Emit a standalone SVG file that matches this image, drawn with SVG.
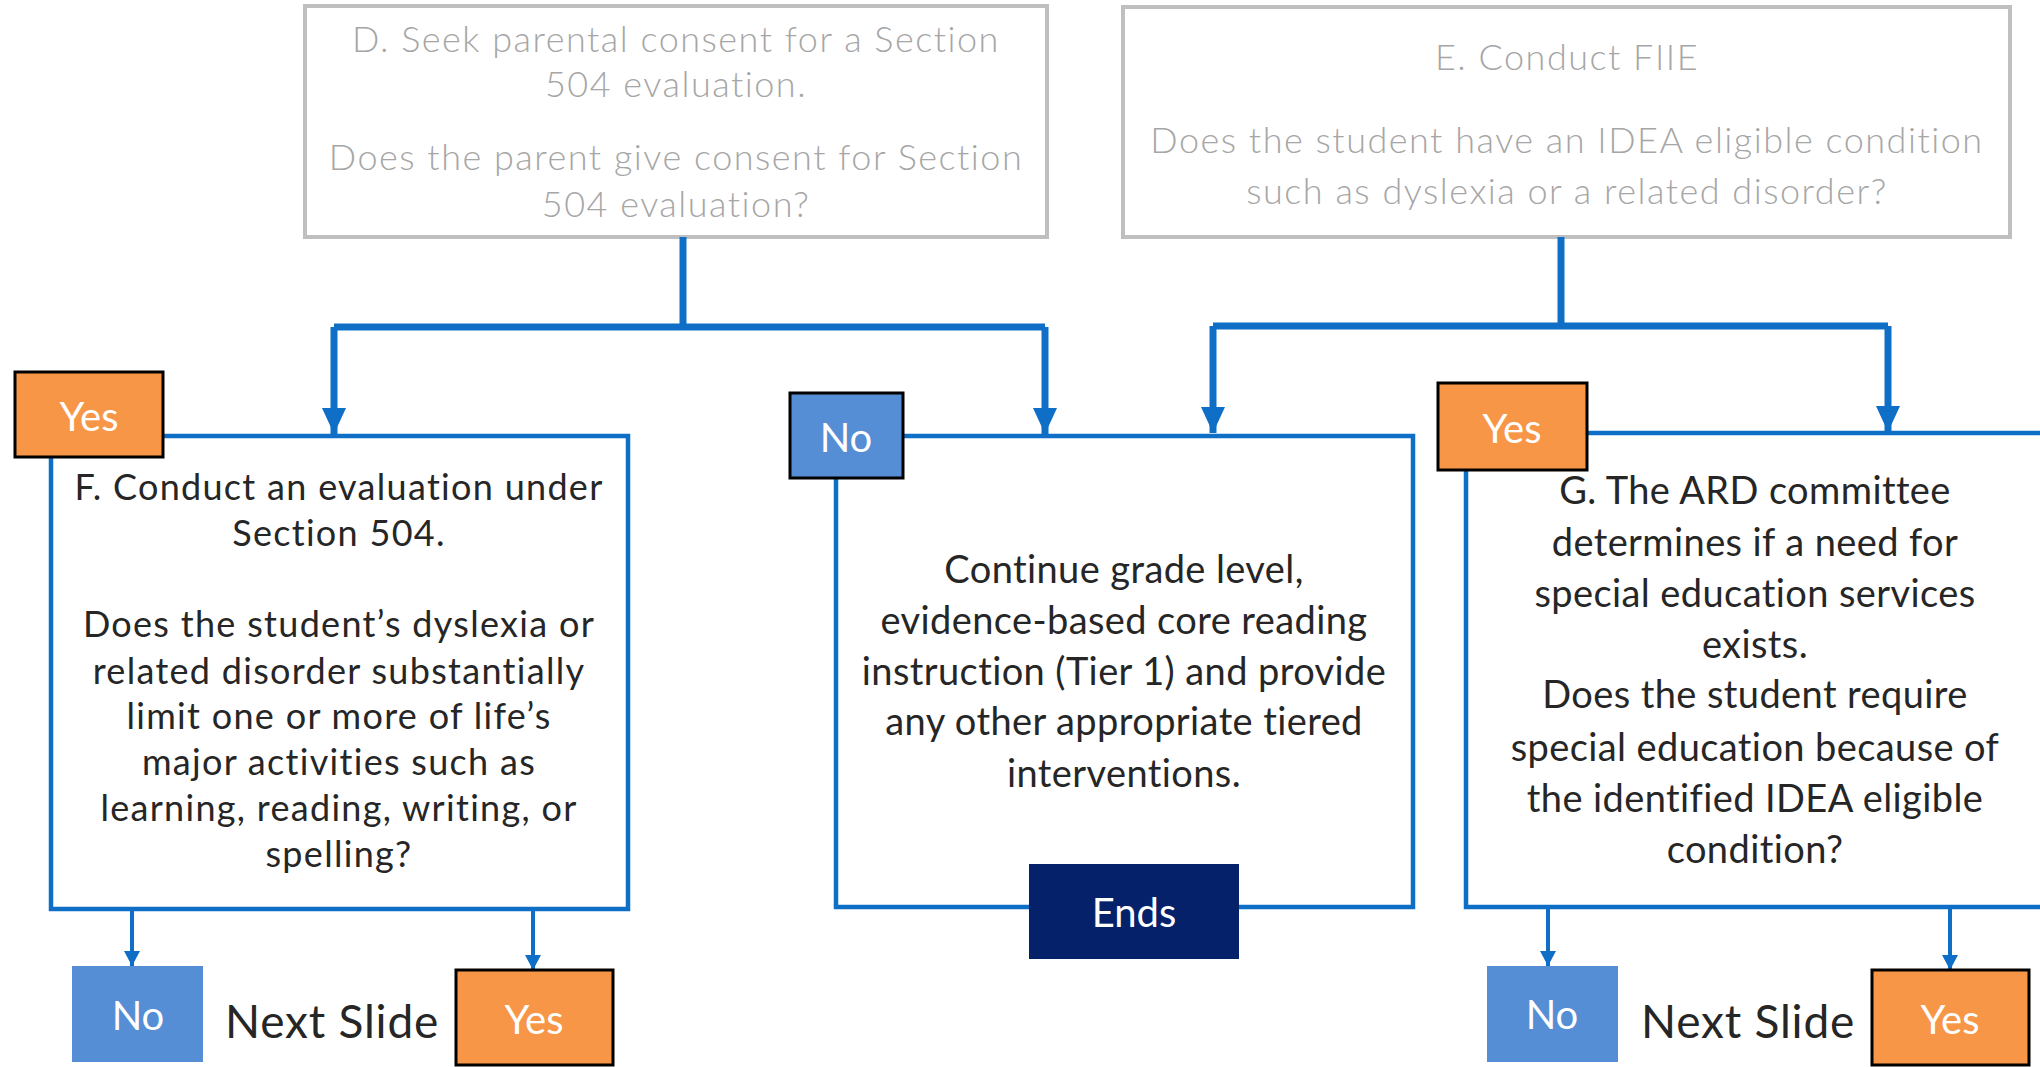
<svg xmlns="http://www.w3.org/2000/svg" width="2040" height="1067" viewBox="0 0 2040 1067">
<style>
.bg{fill:#ffffff}
.gbox{fill:#ffffff;stroke:#bfbfbf;stroke-width:4}
.bbox{fill:#ffffff;stroke:#0f6fc6;stroke-width:4.5}
.conn{fill:none;stroke:#0f6fc6;stroke-width:7}
.thin{fill:none;stroke:#0f6fc6;stroke-width:4}
.yes{fill:#f79646;stroke:#000000;stroke-width:3}
.no{fill:#558ed5;stroke:#000000;stroke-width:3}
.nob{fill:#558ed5}
.ends{fill:#042169}
.gt{font-family:Lato,"Liberation Sans",sans-serif;font-weight:300;font-size:36px;letter-spacing:1.5px;fill:#a6a6a6;text-anchor:middle}
.dt{font-family:Lato,"Liberation Sans",sans-serif;font-weight:400;font-size:36px;letter-spacing:1.3px;fill:#262626;text-anchor:middle}
.dt2{font-family:Lato,"Liberation Sans",sans-serif;font-weight:400;font-size:38px;letter-spacing:0.4px;fill:#262626;text-anchor:middle}
.lt{font-family:Lato,"Liberation Sans",sans-serif;font-size:40px;fill:#ffffff;text-anchor:middle}
.ns{font-family:Lato,"Liberation Sans",sans-serif;font-weight:400;font-size:46px;letter-spacing:0.8px;fill:#262626}
</style>
<defs>
<marker id="ah" markerUnits="userSpaceOnUse" markerWidth="26" markerHeight="24" refX="26" refY="12" orient="auto">
<path d="M0,0 L26,12 L0,24 Z" fill="#0f6fc6"/>
</marker>
<marker id="ahs" markerUnits="userSpaceOnUse" markerWidth="15" markerHeight="16" refX="15" refY="8" orient="auto">
<path d="M0,0 L15,8 L0,16 Z" fill="#0f6fc6"/>
</marker>
</defs>
<rect class="bg" x="0" y="0" width="2040" height="1067"/>

<g id="nodeD">
<rect class="gbox" x="305" y="6" width="742" height="231"/>
<text class="gt" x="676" y="52">D. Seek parental consent for a Section</text>
<text class="gt" x="676" y="97">504 evaluation.</text>
<text class="gt" x="676" y="170">Does the parent give consent for Section</text>
<text class="gt" x="676" y="217">504 evaluation?</text>
</g>

<g id="nodeE">
<rect class="gbox" x="1123" y="7" width="887" height="230"/>
<text class="gt" x="1567" y="70">E. Conduct FIIE</text>
<text class="gt" x="1567" y="153">Does the student have an IDEA eligible condition</text>
<text class="gt" x="1567" y="204">such as dyslexia or a related disorder?</text>
</g>

<g id="connectors">
<path class="conn" d="M683,237 V327"/>
<path class="conn" d="M334,327 H1045"/>
<path class="conn" d="M334,327 V434" marker-end="url(#ah)"/>
<path class="conn" d="M1045,327 V434" marker-end="url(#ah)"/>
<path class="conn" d="M1561,237 V326"/>
<path class="conn" d="M1213,326 H1888"/>
<path class="conn" d="M1213,326 V433" marker-end="url(#ah)"/>
<path class="conn" d="M1888,326 V432" marker-end="url(#ah)"/>
<path class="thin" d="M132,909 V966" marker-end="url(#ahs)"/>
<path class="thin" d="M533,909 V970" marker-end="url(#ahs)"/>
<path class="thin" d="M1548,907 V966" marker-end="url(#ahs)"/>
<path class="thin" d="M1950,907 V970" marker-end="url(#ahs)"/>
</g>

<g id="nodeF">
<rect class="bbox" x="51" y="436" width="577" height="473"/>
<text class="dt" x="339" y="500">F. Conduct an evaluation under</text>
<text class="dt" x="339" y="546">Section 504.</text>
<text class="dt" x="339" y="637">Does the student’s dyslexia or</text>
<text class="dt" x="339" y="684">related disorder substantially</text>
<text class="dt" x="339" y="729">limit one or more of life’s</text>
<text class="dt" x="339" y="775">major activities such as</text>
<text class="dt" x="339" y="821">learning, reading, writing, or</text>
<text class="dt" x="339" y="867">spelling?</text>
</g>
<g id="yesF">
<rect class="yes" x="15" y="372" width="148" height="85"/>
<text class="lt" x="89" y="431">Yes</text>
</g>

<g id="nodeContinue">
<rect class="bbox" x="836" y="436" width="577" height="471"/>
<text class="dt2" x="1124" y="583">Continue grade level,</text>
<text class="dt2" x="1124" y="634">evidence-based core reading</text>
<text class="dt2" x="1124" y="685">instruction (Tier 1) and provide</text>
<text class="dt2" x="1124" y="735">any other appropriate tiered</text>
<text class="dt2" x="1124" y="787">interventions.</text>
</g>
<g id="noMid">
<rect class="no" x="790" y="393" width="113" height="85"/>
<text class="lt" x="846" y="452">No</text>
</g>
<g id="ends">
<rect class="ends" x="1029" y="864" width="210" height="95"/>
<text class="lt" x="1134" y="927">Ends</text>
</g>

<g id="nodeG">
<rect class="bbox" x="1466" y="433" width="600" height="474"/>
<text class="dt2" x="1755" y="504">G. The ARD committee</text>
<text class="dt2" x="1755" y="556">determines if a need for</text>
<text class="dt2" x="1755" y="607">special education services</text>
<text class="dt2" x="1755" y="658">exists.</text>
<text class="dt2" x="1755" y="708">Does the student require</text>
<text class="dt2" x="1755" y="761">special education because of</text>
<text class="dt2" x="1755" y="812">the identified IDEA eligible</text>
<text class="dt2" x="1755" y="863">condition?</text>
</g>
<g id="yesG">
<rect class="yes" x="1438" y="383" width="149" height="87"/>
<text class="lt" x="1512" y="443">Yes</text>
</g>

<g id="noBL">
<rect class="nob" x="72" y="966" width="131" height="96"/>
<text class="lt" x="138" y="1030">No</text>
</g>
<g id="nextBL">
<text class="ns" x="225" y="1038">Next Slide</text>
</g>
<g id="yesBL">
<rect class="yes" x="456" y="970" width="157" height="95"/>
<text class="lt" x="534" y="1034">Yes</text>
</g>

<g id="noBR">
<rect class="nob" x="1487" y="966" width="131" height="96"/>
<text class="lt" x="1552" y="1029">No</text>
</g>
<g id="nextBR">
<text class="ns" x="1641" y="1038">Next Slide</text>
</g>
<g id="yesBR">
<rect class="yes" x="1872" y="970" width="157" height="95"/>
<text class="lt" x="1950" y="1034">Yes</text>
</g>
</svg>
